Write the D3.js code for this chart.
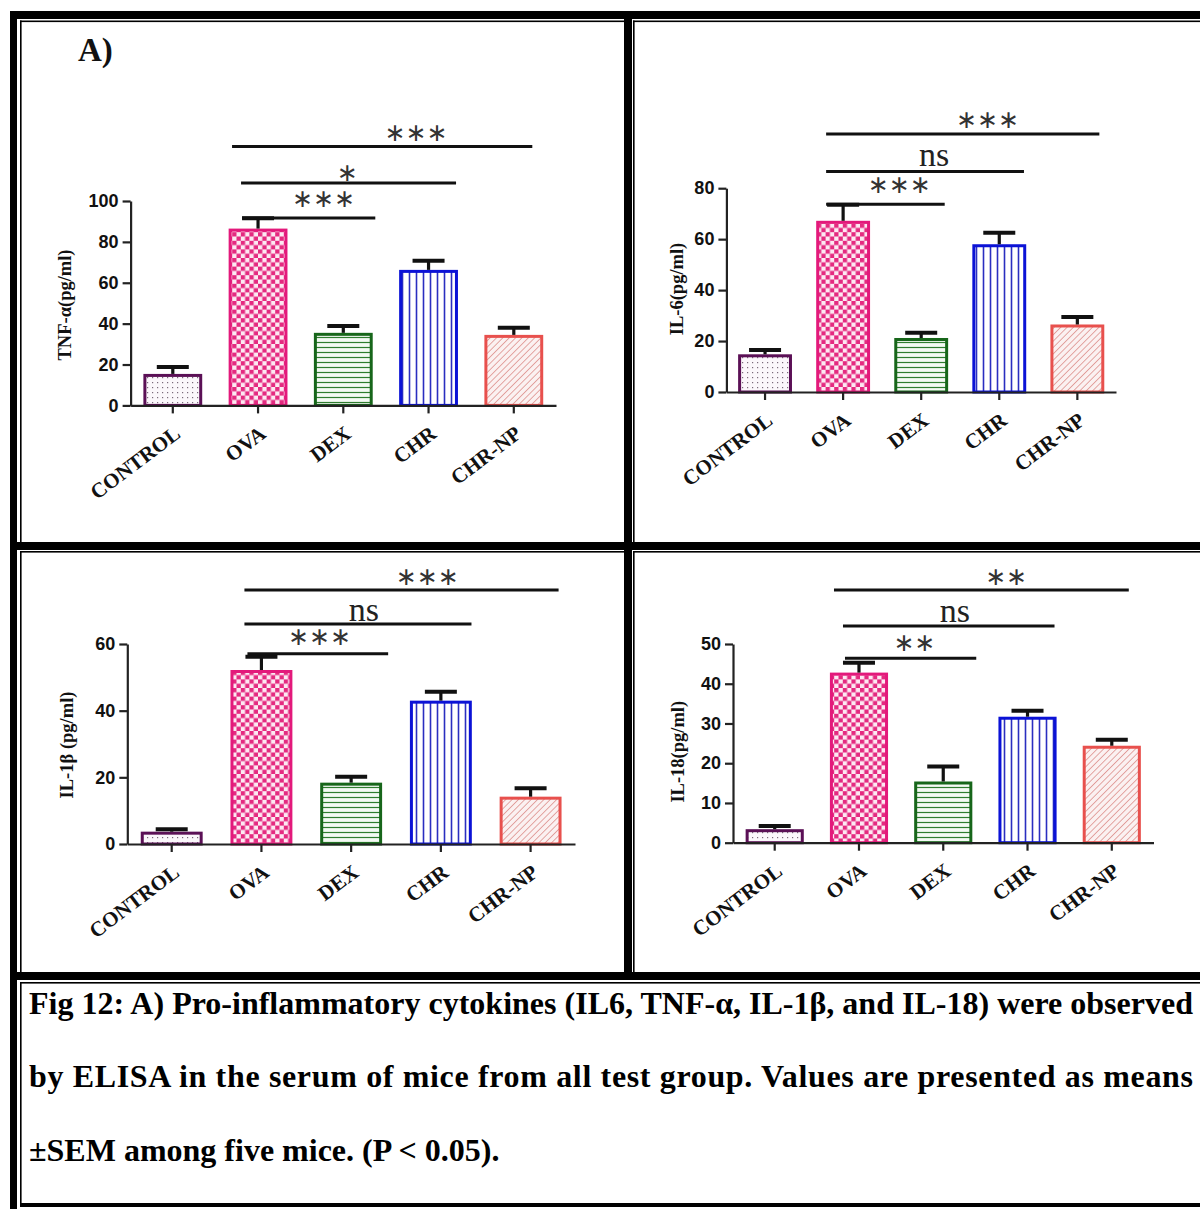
<!DOCTYPE html>
<html>
<head>
<meta charset="utf-8">
<script src="https://cdn.jsdelivr.net/npm/d3@7"></script>
<style>
  html, body { margin: 0; padding: 0; background: #fff; }
  svg { display: block; }
</style>
</head>
<body>
<svg id="chart" width="1200" height="1209"></svg>
<script>
// ---------------- DATA ----------------
const groups = ["CONTROL", "OVA", "DEX", "CHR", "CHR-NP"];

const tnfMean = [15.4, 86.5, 35.5, 66.3, 34.5];
const tnfSem  = [3.4, 5.1, 3.4, 4.5, 3.5];
const tnfTicks = [0, 20, 40, 60, 80, 100];
const tnfSig = ["***", "*", "***"];

const il6Mean = [14.8, 67.2, 21.2, 58.0, 26.5];
const il6Sem  = [1.7, 6.3, 2.1, 4.5, 2.9];
const il6Ticks = [0, 20, 40, 60, 80];
const il6Sig = ["***", "ns", "***"];

const il1bMean = [3.7, 52.2, 18.4, 43.0, 14.2];
const il1bSem  = [0.7, 4.0, 1.8, 2.7, 2.5];
const il1bTicks = [0, 20, 40, 60];
const il1bSig = ["***", "ns", "***"];

const il18Mean = [3.4, 42.8, 15.4, 31.7, 24.4];
const il18Sem  = [0.8, 2.5, 3.8, 1.5, 1.5];
const il18Ticks = [0, 10, 20, 30, 40, 50];
const il18Sig = ["**", "ns", "**"];

const sigFrom = "OVA";
const sigTargets = ["DEX", "CHR", "CHR-NP"];

const yTitles = ["TNF-\u03b1(pg/ml)", "IL-6(pg/ml)", "IL-1\u03b2 (pg/ml)", "IL-18(pg/ml)"];
const panelLabel = "A)";
const captionLines = [
  "Fig 12: A) Pro-inflammatory cytokines (IL6, TNF-\u03b1, IL-1\u03b2, and IL-18) were observed",
  "by ELISA in the serum of mice from all test group. Values are presented as means",
  "\u00b1SEM among five mice. (P < 0.05)."
];

// ---------------- STYLE ----------------
const strokeColors = ["#5b1056", "#e3197b", "#17661a", "#0b12d6", "#e8504d"];

const svg = d3.select("#chart");
svg.append("rect").attr("width", 1200).attr("height", 1209).attr("fill", "#fff");

const defs = svg.append("defs");
// pattern 0: dots
let p = defs.append("pattern").attr("id", "pat0").attr("patternUnits", "userSpaceOnUse").attr("width", 5).attr("height", 5);
p.append("rect").attr("width", 5).attr("height", 5).attr("fill", "#fbf7fb");
p.append("rect").attr("x", 2).attr("y", 2).attr("width", 1.2).attr("height", 1.2).attr("fill", "#7a6a7a");
// pattern 1: checker
p = defs.append("pattern").attr("id", "pat1").attr("patternUnits", "userSpaceOnUse").attr("width", 8.6).attr("height", 8.6);
p.append("rect").attr("width", 8.6).attr("height", 8.6).attr("fill", "#fde9f2");
p.append("rect").attr("width", 4.3).attr("height", 4.3).attr("fill", "#e42a80");
p.append("rect").attr("x", 4.3).attr("y", 4.3).attr("width", 4.3).attr("height", 4.3).attr("fill", "#e42a80");
// pattern 2: horizontal lines
p = defs.append("pattern").attr("id", "pat2").attr("patternUnits", "userSpaceOnUse").attr("width", 6).attr("height", 5);
p.append("rect").attr("width", 6).attr("height", 5).attr("fill", "#f4faf4");
p.append("line").attr("x1", 0).attr("x2", 6).attr("y1", 2.5).attr("y2", 2.5).attr("stroke", "#2f7d2f").attr("stroke-width", 1.2);
// pattern 3: vertical lines
p = defs.append("pattern").attr("id", "pat3").attr("patternUnits", "userSpaceOnUse").attr("width", 7).attr("height", 6);
p.append("rect").attr("width", 7).attr("height", 6).attr("fill", "#ffffff");
p.append("line").attr("y1", 0).attr("y2", 6).attr("x1", 3.5).attr("x2", 3.5).attr("stroke", "#2a2ec0").attr("stroke-width", 1.6);
// pattern 4: diagonal hatch
p = defs.append("pattern").attr("id", "pat4").attr("patternUnits", "userSpaceOnUse").attr("width", 4.5).attr("height", 4.5)
  .attr("patternTransform", "rotate(45)");
p.append("rect").attr("width", 4.5).attr("height", 4.5).attr("fill", "#fbf1f1");
p.append("line").attr("x1", 0).attr("x2", 0).attr("y1", 0).attr("y2", 4.5).attr("stroke", "#d87c78").attr("stroke-width", 1.3);

// ---------------- BORDERS ----------------
const bk = "#000";
function box(x, y, w, h) { svg.append("rect").attr("x", x).attr("y", y).attr("width", w).attr("height", h).attr("fill", bk); }
// thick bands
box(10, 11, 1190, 8);      // top
box(10, 11, 7, 1198);      // left
box(624, 11, 8, 969);      // middle vertical
box(10, 542, 1190, 8);     // middle horizontal
box(10, 972, 1190, 8);     // below charts
box(20, 1203, 1180, 4);    // bottom
// thin lines
box(20, 20.5, 604, 1.6);  box(633, 20.5, 567, 1.6);
box(20, 20.5, 1.6, 521.5); box(633, 20.5, 1.6, 521.5);
box(20, 551, 604, 1.6);   box(633, 551, 567, 1.6);
box(20, 551, 1.6, 421);   box(633, 551, 1.6, 421);
box(20, 982, 1180, 1.6);  box(20, 982, 1.6, 221);

// ---------------- PANELS ----------------
const panels = [
  { mean: tnfMean, sem: tnfSem, ticks: tnfTicks, sig: tnfSig, title: yTitles[0],
    left: 130.6, right: 556, y0: 405.4, yTop: 201, titleX: 65, titleY: 305,
    sigY: [218, 183, 146.4], sigDx1: [-16, -17, -26], sigDx2: [32, 27.5, 18.5], sigLx: [15, -1, 34], sigLy: [197.5, 171, 131] },
  { mean: il6Mean, sem: il6Sem, ticks: il6Ticks, sig: il6Sig, title: yTitles[1],
    left: 726.4, right: 1116, y0: 392, yTop: 188.2, titleX: 676.5, titleY: 289,
    sigY: [204.3, 171.4, 134], sigDx1: [-17, -17, -17], sigDx2: [23.5, 24.7, 22], sigLx: [14, 9, 25], sigLy: [183, 154, 118] },
  { mean: il1bMean, sem: il1bSem, ticks: il1bTicks, sig: il1bSig, title: yTitles[2],
    left: 127.3, right: 575, y0: 844, yTop: 644, titleX: 67, titleY: 745,
    sigY: [653.7, 624, 590], sigDx1: [-14, -17, -17], sigDx2: [37, 30.6, 28], sigLx: [2, 6, 26], sigLy: [635.7, 609, 575.7] },
  { mean: il18Mean, sem: il18Sem, ticks: il18Ticks, sig: il18Sig, title: yTitles[3],
    left: 733, right: 1153.5, y0: 842.7, yTop: 644, titleX: 678, titleY: 751.7,
    sigY: [658.3, 626, 590], sigDx1: [-14, -16, -25], sigDx2: [33, 27, 17], sigLx: [4, 6, 25], sigLy: [641.7, 610.7, 575.7] }
];

function drawPanel(cfg) {
  const x = d3.scaleBand().domain(groups).range([cfg.left, cfg.right]).paddingInner(0.31).paddingOuter(0.15);
  const y = d3.scaleLinear().domain([0, d3.max(cfg.ticks)]).range([cfg.y0, cfg.yTop]);
  const cx = k => x(k) + x.bandwidth() / 2;
  const g = svg.append("g");
  const rows = groups.map((k, i) => ({ k, i, m: cfg.mean[i], e: cfg.sem[i] }));

  // bars
  g.selectAll("rect.bar").data(rows).join("rect").attr("class", "bar")
    .attr("x", d => x(d.k) + 1.5).attr("width", x.bandwidth() - 3)
    .attr("y", d => y(d.m) + 1.5).attr("height", d => y(0) - y(d.m) - 1.5)
    .attr("fill", d => `url(#pat${d.i})`)
    .attr("stroke", d => strokeColors[d.i]).attr("stroke-width", 3);

  // error bars (upper only)
  g.selectAll("line.stem").data(rows).join("line").attr("class", "stem")
    .attr("x1", d => cx(d.k)).attr("x2", d => cx(d.k))
    .attr("y1", d => y(d.m)).attr("y2", d => y(d.m + d.e))
    .attr("stroke", "#111").attr("stroke-width", 3.2);
  g.selectAll("line.cap").data(rows).join("line").attr("class", "cap")
    .attr("x1", d => cx(d.k) - 16).attr("x2", d => cx(d.k) + 16)
    .attr("y1", d => y(d.m + d.e)).attr("y2", d => y(d.m + d.e))
    .attr("stroke", "#111").attr("stroke-width", 4);

  // axes
  const ya = g.append("g").attr("transform", `translate(${cfg.left},0)`)
    .call(d3.axisLeft(y).tickValues(cfg.ticks).tickSize(8).tickSizeOuter(0).tickPadding(4));
  const xa = g.append("g").attr("transform", `translate(0,${cfg.y0})`)
    .call(d3.axisBottom(x).tickSize(8).tickSizeOuter(0).tickFormat(""));
  [ya, xa].forEach(a => {
    a.select(".domain").attr("stroke", "#222").attr("stroke-width", 2.2);
    a.selectAll(".tick line").attr("stroke", "#222").attr("stroke-width", 2.2);
  });
  ya.selectAll(".tick text")
    .attr("font-family", "'Liberation Sans', Arial, sans-serif").attr("font-weight", "bold")
    .attr("font-size", 18).attr("fill", "#111");

  // x labels
  g.selectAll("text.xl").data(groups).join("text").attr("class", "xl")
    .attr("transform", d => `translate(${cx(d) + 9},${cfg.y0 + 31}) rotate(-37)`)
    .attr("text-anchor", "end")
    .attr("font-family", "'Liberation Serif', 'Times New Roman', serif").attr("font-weight", "bold")
    .attr("font-size", 21).attr("fill", "#111")
    .text(d => d);

  // y title
  g.append("text")
    .attr("transform", `translate(${cfg.titleX},${cfg.titleY}) rotate(-90)`)
    .attr("text-anchor", "middle").attr("dominant-baseline", "central")
    .attr("font-family", "'Liberation Serif', 'Times New Roman', serif").attr("font-weight", "bold")
    .attr("font-size", 18.5).attr("fill", "#111")
    .text(cfg.title);

  // significance brackets
  sigTargets.forEach((t, j) => {
    const x1 = cx(sigFrom) + cfg.sigDx1[j];
    const x2 = cx(t) + cfg.sigDx2[j];
    g.append("line").attr("x1", x1).attr("x2", x2).attr("y1", cfg.sigY[j]).attr("y2", cfg.sigY[j])
      .attr("stroke", "#111").attr("stroke-width", 3);
    const lab = cfg.sig[j];
    const isNs = lab === "ns";
    g.append("text")
      .attr("x", (x1 + x2) / 2 + cfg.sigLx[j]).attr("y", cfg.sigLy[j] + (isNs ? 0 : 1))
      .attr("text-anchor", "middle").attr("dominant-baseline", "central")
      .attr("font-family", isNs ? "'Liberation Serif', 'Times New Roman', serif" : "'DejaVu Sans', sans-serif")
      .attr("font-size", isNs ? 34 : 25)
      .attr("fill", isNs ? "#222" : "#333")
      .text(isNs ? "ns" : lab.replace(/\*/g, "\u2217"));
  });
}
panels.forEach(drawPanel);

// panel label
svg.append("text").attr("x", 78).attr("y", 61)
  .attr("font-family", "'Liberation Serif', 'Times New Roman', serif").attr("font-weight", "bold")
  .attr("font-size", 33).attr("fill", "#111").text(panelLabel);

// caption
const capY = [1014, 1087, 1161];
captionLines.forEach((line, i) => {
  const t = svg.append("text").attr("x", 29).attr("y", capY[i])
    .attr("font-family", "'Liberation Serif', 'Times New Roman', serif").attr("font-weight", "bold")
    .attr("font-size", 32).attr("fill", "#000").text(line);
  if (i < 2) t.attr("textLength", 1164).attr("lengthAdjust", "spacing");
});
</script>
</body>
</html>
